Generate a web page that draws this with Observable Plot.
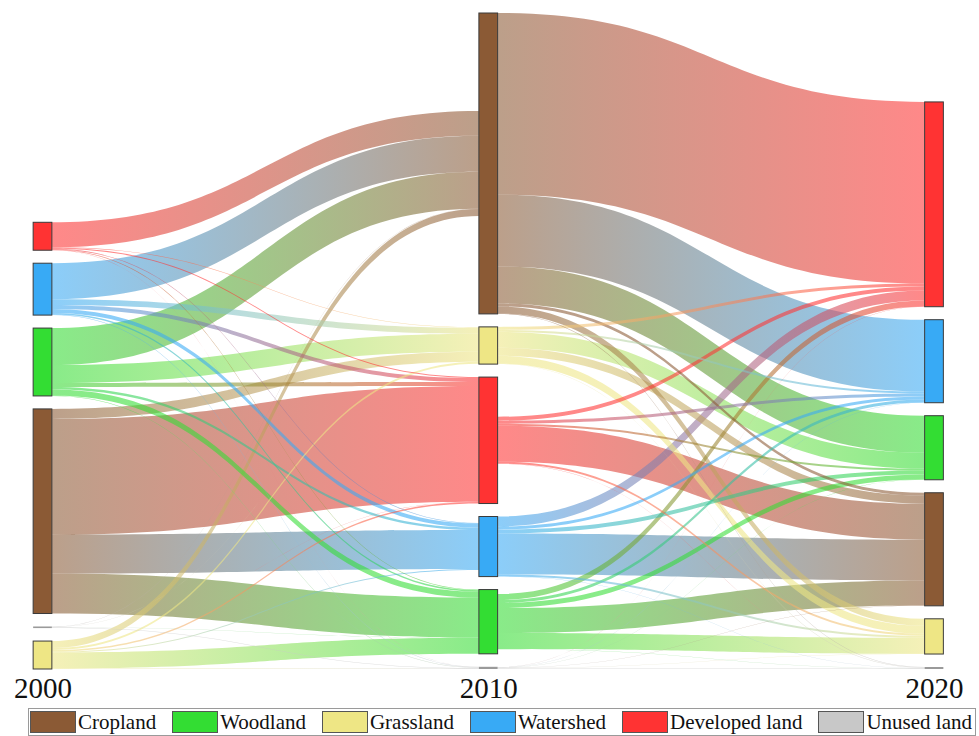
<!DOCTYPE html>
<html>
<head>
<meta charset="utf-8">
<script src="https://cdn.jsdelivr.net/npm/d3@7"></script>
<script src="https://cdn.jsdelivr.net/npm/@observablehq/plot@0.6"></script>
<style>
  html, body { margin: 0; padding: 0; background: #fff; }
  #chart { width: 979px; }
  .legend {
    box-sizing: border-box;
    margin: 2px 0 0 28px;
    width: 948px;
    height: 28px;
    border: 1px solid #9a9a9a;
    display: flex;
    align-items: center;
    justify-content: space-between;
    padding: 0 3px 0 1px;
    font-family: "Liberation Serif", "Times New Roman", serif;
    font-size: 21px;
    color: #111;
  }
  .legend .item { display: flex; align-items: center; }
  .legend .swatch {
    width: 46px; height: 22px; box-sizing: border-box;
    border: 1px solid #555; margin-right: 2px;
  }
</style>
</head>
<body>
<div id="chart"></div>
<script>
// Land-use classes and their colours
const categories = ["Cropland", "Woodland", "Grassland", "Watershed", "Developed land", "Unused land"];
const colors = ["#8B5A35", "#33DD33", "#EEE685", "#38AAF5", "#FF3333", "#C8C8C8"];
const years = [2000, 2010, 2020];

// Vertical order of the classes in each year's column (top to bottom)
const order2000 = ["Developed land", "Watershed", "Woodland", "Cropland", "Unused land", "Grassland"];
const order2010 = ["Cropland", "Grassland", "Developed land", "Watershed", "Woodland", "Unused land"];
const order2020 = ["Developed land", "Watershed", "Woodland", "Cropland", "Grassland", "Unused land"];

// Transfer matrices: rows = class in the earlier year, columns = class in the later year
// (column order: Cropland, Woodland, Grassland, Watershed, Developed land, Unused land)
const flows2000to2010 = [
  [0,   40,  10,  39,  116, 0],    // Cropland
  [37,  6,   18,  2.5, 4,   0.5],  // Woodland
  [7,   16,  2,   1,   1.5, 0.5],  // Grassland
  [36,  1.5, 6,   4,   4,   0.5],  // Watershed
  [25,  0.6, 0.6, 0.6, 1,   0.2],  // Developed land
  [0.3, 0.3, 0.2, 0.1, 0.2, 0.5]   // Unused land
];
const flows2010to2020 = [
  [3,   37,  7,   72,  182, 0.5],  // Cropland
  [25,  5,   16,  3,   6,   0.3],  // Woodland
  [8,   16,  8,   2,   3,   0.3],  // Grassland
  [41,  4,   2,   3,   10,  0.2],  // Watershed
  [36,  2,   2,   3,   4,   0.2],  // Developed land
  [0.3, 0.2, 0.3, 0.2, 0.2, 0.5]   // Unused land
];

const columns = [
  {year: 2000, order: order2000},
  {year: 2010, order: order2010},
  {year: 2020, order: order2020}
];
const transitions = [flows2000to2010, flows2010to2020];

const NODE_HALF = 0.21;   // half the node width, in years
const GAP = 13;           // vertical gap between nodes, in area units
const colorOf = c => colors[categories.indexOf(c)];

// Nodes: stacked from the bottom of each column; height = max(inflow, outflow)
const nodes = [];
const nodeMap = new Map();
columns.forEach((col, ci) => {
  let base = 0;
  for (const cat of [...col.order].reverse()) {
    const k = categories.indexOf(cat);
    const inflow = ci > 0 ? d3.sum(transitions[ci - 1], row => row[k]) : 0;
    const outflow = ci < transitions.length ? d3.sum(transitions[ci][k]) : 0;
    const size = Math.max(inflow, outflow);
    const node = {year: col.year, col: ci, category: cat, y0: base, y1: base + size, size, inflow, outflow};
    nodes.push(node);
    nodeMap.set(col.year + "|" + cat, node);
    base += size + GAP;
  }
});

// Links between consecutive years
const links = [];
transitions.forEach((matrix, i) => {
  const src = columns[i], tgt = columns[i + 1];
  matrix.forEach((row, s) => row.forEach((v, t) => {
    if (v > 0) links.push({
      id: `flow-${i}-${s}-${t}`, i, value: v,
      source: nodeMap.get(src.year + "|" + categories[s]),
      target: nodeMap.get(tgt.year + "|" + categories[t])
    });
  }));
});

// Stack link ends inside each node, centred on the node
for (const node of nodes) {
  const out = links.filter(l => l.source === node)
    .sort((a, b) => columns[a.i + 1].order.indexOf(a.target.category) - columns[b.i + 1].order.indexOf(b.target.category));
  let y = node.y1 - (node.size - node.outflow) / 2;
  for (const l of out) { l.sTop = y; l.sBot = y - l.value; y -= l.value; }
  const inc = links.filter(l => l.target === node)
    .sort((a, b) => columns[a.i].order.indexOf(a.source.category) - columns[b.i].order.indexOf(b.source.category));
  y = node.y1 - (node.size - node.inflow) / 2;
  for (const l of inc) { l.tTop = y; l.tBot = y - l.value; y -= l.value; }
}

const maxColumn = d3.max(columns, (c, ci) => d3.max(nodes.filter(n => n.col === ci), n => n.y1));

// Wide flows first, thin ones on top
const drawOrder = [...links].sort((a, b) => b.value - a.value);

const flowMarks = drawOrder.map(l => Plot.areaY(
  [
    {x: l.source.year + NODE_HALF, top: l.sTop, bottom: l.sBot},
    {x: l.target.year - NODE_HALF, top: l.tTop, bottom: l.tBot}
  ],
  {x: "x", y1: "top", y2: "bottom", curve: "bump-x", fill: `url(#${l.id})`, fillOpacity: 0.58}
));

const serif = "'Liberation Serif', 'Times New Roman', serif";

const chart = Plot.plot({
  width: 979,
  height: 706,
  marginTop: 13,
  marginBottom: 37,
  marginLeft: 42.5,
  marginRight: 45,
  x: {domain: [2000, 2020]},
  y: {domain: [0, maxColumn], axis: null},
  color: {domain: categories, range: colors},
  marks: [
    ...flowMarks,
    Plot.rect(nodes.filter(n => n.category !== "Unused land"), {
      x1: d => d.year - NODE_HALF, x2: d => d.year + NODE_HALF,
      y1: "y0", y2: "y1", fill: "category", stroke: "#3a3a3a", strokeWidth: 1
    }),
    Plot.rect(nodes.filter(n => n.category === "Unused land"), {
      x1: d => d.year - NODE_HALF, x2: d => d.year + NODE_HALF,
      y1: "y0", y2: "y1", fill: "#9a9a9a"
    }),
    Plot.axisX({
      ticks: years, tickFormat: d => String(d), tickSize: 0, tickPadding: 8,
      fontSize: 29, fontFamily: serif, fill: "#111", label: null
    })
  ]
});

// Horizontal colour gradients from the source class to the target class
const xs = chart.scale("x");
const defs = d3.select(chart).insert("defs", ":first-child");
for (const l of links) {
  const g = defs.append("linearGradient")
    .attr("id", l.id)
    .attr("gradientUnits", "userSpaceOnUse")
    .attr("x1", xs.apply(l.source.year + NODE_HALF))
    .attr("x2", xs.apply(l.target.year - NODE_HALF))
    .attr("y1", 0).attr("y2", 0);
  g.append("stop").attr("offset", "0%").attr("stop-color", colorOf(l.source.category));
  g.append("stop").attr("offset", "100%").attr("stop-color", colorOf(l.target.category));
}

const root = document.getElementById("chart");
root.appendChild(chart);

// Legend
const legend = document.createElement("div");
legend.className = "legend";
categories.forEach((c, i) => {
  const item = document.createElement("div");
  item.className = "item";
  const sw = document.createElement("div");
  sw.className = "swatch";
  sw.style.background = colors[i];
  const label = document.createElement("span");
  label.textContent = c;
  item.appendChild(sw);
  item.appendChild(label);
  legend.appendChild(item);
});
root.appendChild(legend);
</script>
</body>
</html>
